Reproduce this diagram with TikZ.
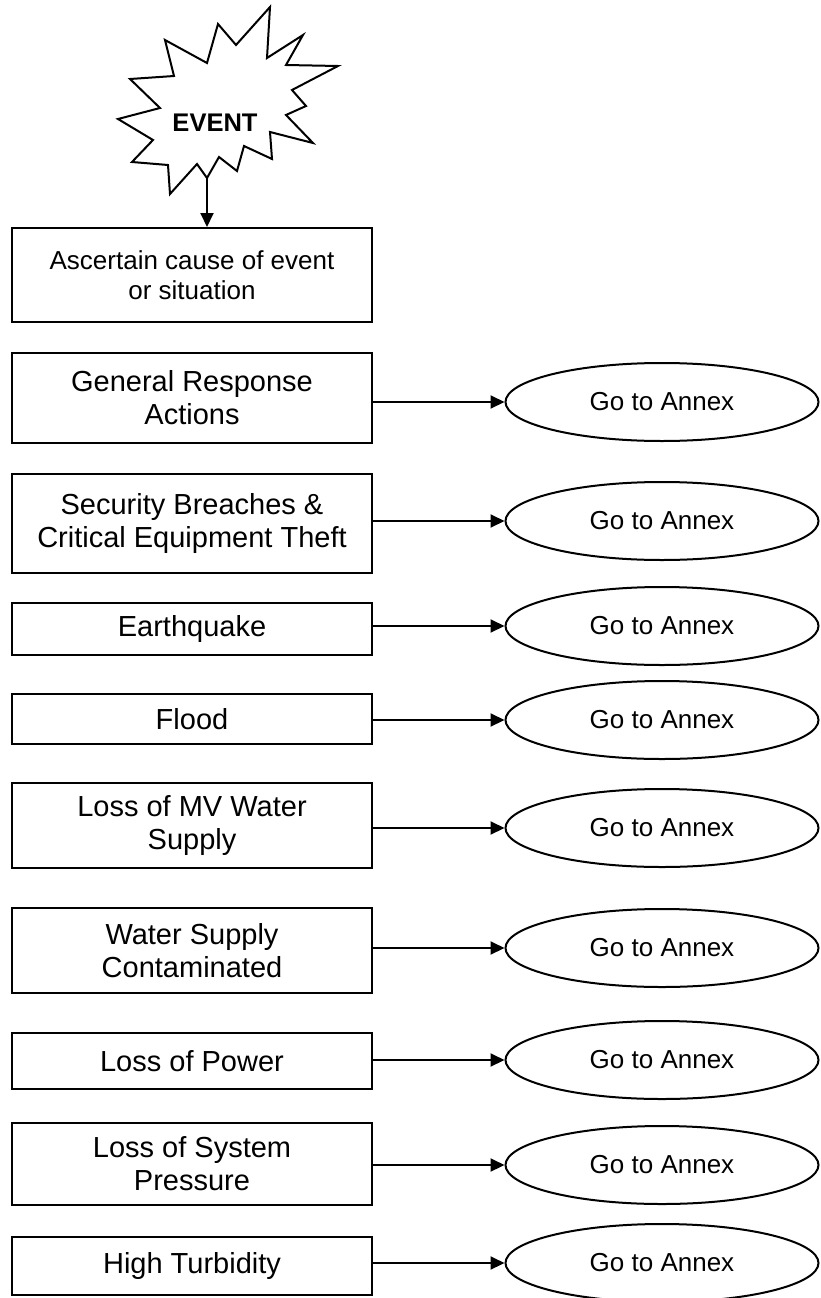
\documentclass[tikz,border=0pt]{standalone}
\usepackage{fontspec}
\setmainfont{Liberation Sans}
\usetikzlibrary{shapes.geometric,arrows.meta}
\begin{document}
\begin{tikzpicture}[x=1pt,y=-1pt,
  line width=2pt,
  cause/.style={draw, rectangle, minimum width=360pt, inner sep=0pt,
    align=center, font=\fontsize{29}{33}\selectfont},
  annex/.style={draw, ellipse, minimum width=313pt, minimum height=78pt,
    inner sep=0pt, font=\fontsize{26}{30}\selectfont},
  link/.style={-{Triangle[length=14pt,width=13pt]}}]
\useasboundingbox (0,0) rectangle (820,1298);

% event starburst
\draw[line join=miter] (270,7) -- (267,58) -- (303,35) -- (286,65) -- (338,66)
  -- (292,90) -- (306,106) -- (286,115) -- (313,143) -- (270,132)
  -- (272,159) -- (244,146) -- (237,171) -- (219,157) -- (207,178)
  -- (197,164) -- (170,194) -- (168,165) -- (132,162) -- (153,140)
  -- (118,119) -- (160,108) -- (130,79) -- (174,76) -- (165,40)
  -- (207,63) -- (218,24) -- (236,45) -- cycle;
\node[font=\bfseries\fontsize{25.5}{30}\selectfont] (event) at (215,123) {EVENT};
\coordinate (burst) at (207,178);

% first step
\node[cause, minimum height=94pt, font=\fontsize{26}{30}\selectfont] (b0) at (192,275)
  {Ascertain cause of event\\or situation};
\draw[link] (burst) -- (b0.north -| burst);

% causes
\node[cause, minimum height=90pt] (b1) at (192,398)    {General Response\\Actions};
\node[cause, minimum height=99pt] (b2) at (192,523.5)  {Security Breaches \&\\Critical Equipment Theft};
\node[cause, minimum height=52pt] (b3) at (192,629)    {Earthquake};
\node[cause, minimum height=50pt] (b4) at (192,719)    {Flood};
\node[cause, minimum height=85pt] (b5) at (192,825.5)  {Loss of MV Water\\Supply};
\node[cause, minimum height=85pt] (b6) at (192,950.5)  {Water Supply\\Contaminated};
\node[cause, minimum height=56pt] (b7) at (192,1061)   {Loss of Power};
\node[cause, minimum height=82pt] (b8) at (192,1164)   {Loss of System\\Pressure};
\node[cause, minimum height=58pt] (b9) at (192,1266)   {High Turbidity};

% annex references
\node[annex] (e1) at (662,402)  {Go to Annex};
\node[annex] (e2) at (662,521)  {Go to Annex};
\node[annex] (e3) at (662,626)  {Go to Annex};
\node[annex] (e4) at (662,720)  {Go to Annex};
\node[annex] (e5) at (662,828)  {Go to Annex};
\node[annex] (e6) at (662,948)  {Go to Annex};
\node[annex] (e7) at (662,1060) {Go to Annex};
\node[annex] (e8) at (662,1165) {Go to Annex};
\node[annex] (e9) at (662,1263) {Go to Annex};

\foreach \i in {1,...,9}
  \draw[link] (b\i.east |- e\i.west) -- (e\i.west);
\end{tikzpicture}
\end{document}
